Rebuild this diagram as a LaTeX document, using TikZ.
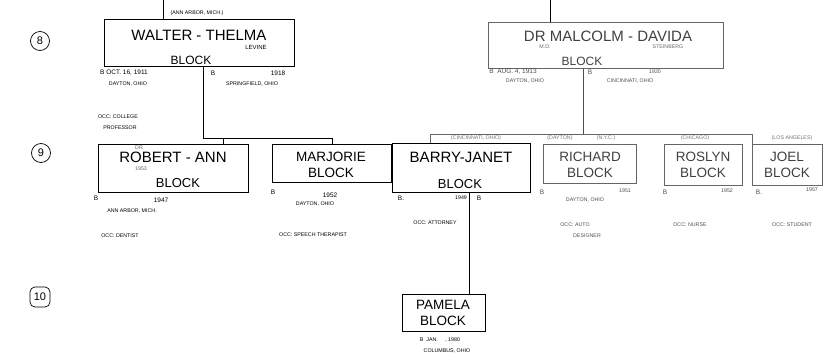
\documentclass[tikz,border=0pt]{standalone}
\usepackage{fontspec}
\setmainfont{Liberation Sans}
\begin{document}
\begin{tikzpicture}[x=1pt,y=-1pt,
  box/.style={draw, line width=0.8pt, inner sep=0pt, anchor=north west},
  faint/.style={draw=black!60},
  nm/.style={font=\fontsize{15}{15}\selectfont, inner sep=0pt},
  nms/.style={font=\fontsize{13.5}{13.5}\selectfont, inner sep=0pt},
  sm/.style={font=\fontsize{6.5}{6.5}\selectfont, inner sep=0pt},
  tn/.style={font=\fontsize{5.3}{5.3}\selectfont, inner sep=0pt},
  gen/.style={draw, circle, line width=0.7pt, inner sep=2pt, minimum size=19, font=\fontsize{11}{11}\selectfont},
  ln/.style={line width=0.8pt}]
\useasboundingbox (0,0) rectangle (840,359);
% generation markers
\node[gen] (g8) at (40,41) {8};
\node[gen] (g9) at (41,153) {9};
\node[gen, rounded corners=5pt, rectangle, minimum width=20, minimum height=20] (g10) at (40,297) {10};

% ---------- generation 8 ----------
\node[box, minimum width=190, minimum height=47] (walter) at (104,19) {};
\node[nm] (walterN) at (199,35) {WALTER - THELMA};
\node[tn, font=\fontsize{6}{6}\selectfont] (lev) at (256,47) {LEVINE};
\node[nm, font=\fontsize{12}{12}\selectfont] (walterB) at (191,60) {BLOCK};
\coordinate (wtop) at (163,0);
\draw[ln] (wtop) -- (wtop |- walter.north);
\node[tn] (annarb) at (197,13) {(ANN ARBOR, MICH.)};
\node[sm] (wb1) at (124,73) {B OCT. 16, 1911};
\node[tn] (wb2) at (128,84) {DAYTON, OHIO};
\node[sm] (tb1) at (213,73) {B};
\node[sm] (tb2) at (278,73) {1918};
\node[tn] (tb3) at (252,84) {SPRINGFIELD, OHIO};
\node[tn] (wocc1) at (118,117) {OCC: COLLEGE};
\node[tn] (wocc2) at (120,128) {PROFESSOR};

\node[box, faint, minimum width=235, minimum height=46] (malc) at (488,22) {};
\node[nm, text=black!75] (malcN) at (608,36) {DR MALCOLM - DAVIDA};
\node[tn, text=black!60] (md) at (545,47) {M.D.};
\node[tn, text=black!60] (stein) at (668,47) {STEINBERG};
\node[nm, font=\fontsize{12}{12}\selectfont, text=black!75] (malcB) at (582,61) {BLOCK};
\coordinate (mtop) at (550,0);
\draw[ln] (mtop) -- (mtop |- malc.north);
\node[sm, text=black!70] (mb1) at (513,72) {B \ AUG. 4, 1913};
\node[tn, text=black!70] (mb2) at (525,81) {DAYTON, OHIO};
\node[sm, text=black!70] (db1) at (590,72) {B};
\node[tn, text=black!70] (db2) at (655,72) {1920};
\node[tn, text=black!70] (db3) at (630,81) {CINCINNATI, OHIO};

% ---------- generation 9 (Walter's children) ----------
\node[box, minimum width=150, minimum height=48] (rob) at (98,144) {};
\node[nm] (robN) at (173,157) {ROBERT - ANN};
\node[tn, text=black!60] (dr) at (139,148) {DR};
\node[tn, text=black!60] (d55) at (141,168.5) {1953};
\node[nm, font=\fontsize{13}{13}\selectfont] (robB) at (178,183) {BLOCK};
\node[sm] (rb1) at (96,198) {B};
\node[sm] (rb2) at (161,200) {1947};
\node[tn] (rb3) at (132,211) {ANN ARBOR, MICH.};
\node[tn] (rocc) at (120,236) {OCC: DENTIST};

\node[box, minimum width=119, minimum height=38] (marj) at (272,144) {};
\node[nms] (marjN) at (331,157) {MARJORIE};
\node[nms] (marjB) at (331,173) {BLOCK};
\node[sm] (mjb1) at (273,192) {B};
\node[sm] (mjb2) at (330,195) {1952};
\node[tn] (mjb3) at (315,204) {DAYTON, OHIO};
\node[tn] (mjocc) at (313,235) {OCC: SPEECH THERAPIST};

\coordinate (wj) at (203,138);
\draw[ln] (walter.south -| wj) -- (wj) -- (wj -| marj.north) -- (marj.north);
\coordinate (rj) at (223,138);
\draw[ln] (rj) -- (rj |- rob.north);

% ---------- generation 9 (Malcolm's children) ----------
\node[box, minimum width=138, minimum height=49] (barry) at (392,143) {};
\node[nm] (barryN) at (461,157) {BARRY-JANET};
\node[nm, font=\fontsize{13}{13}\selectfont] (barryB) at (460,184) {BLOCK};
\node[sm] (bb1) at (401,198) {B.};
\node[tn] (bb2) at (461,198) {1949};
\node[sm] (bb3) at (479,198) {B};
\node[tn] (bocc) at (435,223) {OCC: ATTORNEY};

\node[box, faint, minimum width=93, minimum height=39] (rich) at (543,144) {};
\node[nms, text=black!75] (richN) at (590,157) {RICHARD};
\node[nms, text=black!75] (richB) at (590,173) {BLOCK};
\node[sm, text=black!70] (rcb1) at (542,192) {B};
\node[tn, text=black!70] (rcb2) at (625,191) {1951};
\node[tn, text=black!70] (rcb3) at (585,200) {DAYTON, OHIO};
\node[tn, text=black!70] (rocc1) at (575,225) {OCC: AUTO};
\node[tn, text=black!70] (rocc2) at (587,236) {DESIGNER};

\node[box, faint, minimum width=78, minimum height=41] (ros) at (664,144) {};
\node[nms, text=black!75] (rosN) at (703,157) {ROSLYN};
\node[nms, text=black!75] (rosB) at (703,173) {BLOCK};
\node[sm, text=black!70] (rsb1) at (665,192) {B};
\node[tn, text=black!70] (rsb2) at (727,191) {1952};
\node[tn, text=black!70] (rsocc) at (690,225) {OCC: NURSE};

\node[box, faint, minimum width=70, minimum height=41] (joel) at (752,144) {};
\node[nms, text=black!75] (joelN) at (787,157) {JOEL};
\node[nms, text=black!75] (joelB) at (787,173) {BLOCK};
\node[sm, text=black!70] (jb1) at (759,192) {B.};
\node[tn, text=black!70] (jb2) at (812,190) {1957};
\node[tn, text=black!70] (jocc) at (792,225) {OCC: STUDENT};

\coordinate (mj) at (583,134);
\draw[ln, draw=black!70] (malc.south -| mj) -- (mj);
\coordinate (hl) at (430,134);
\coordinate (hr) at (752,134);
\draw[ln, draw=black!60] (hl) -- (hr);
\draw[ln, draw=black!60] (hl) -- (hl |- barry.north);
\draw[ln, draw=black!60] (hr) -- (hr |- joel.north);
\node[tn, text=black!55] (lb) at (476,138.5) {(CINCINNATI, OHIO)};
\node[tn, text=black!55] (lr1) at (560,138.5) {(DAYTON)};
\node[tn, text=black!55] (lr2) at (606,138.5) {(N.Y.C.)};
\node[tn, text=black!55] (lrs) at (695,138.5) {(CHICAGO)};
\node[tn, text=black!55] (lj) at (792,138.5) {(LOS ANGELES)};

% ---------- generation 10 ----------
\node[box, minimum width=83, minimum height=37] (pam) at (402,294) {};
\node[nms] (pamN) at (443,305) {PAMELA};
\node[nms] (pamB) at (443,321) {BLOCK};
\coordinate (bj) at (469,0);
\draw[ln] (barry.south -| bj) -- (pam.north -| bj);
\node[tn] (pb1) at (440,340) {B \ JAN. \ \ \ \ , 1980};
\node[tn] (pb2) at (447,351) {COLUMBUS, OHIO};
\end{tikzpicture}
\end{document}
